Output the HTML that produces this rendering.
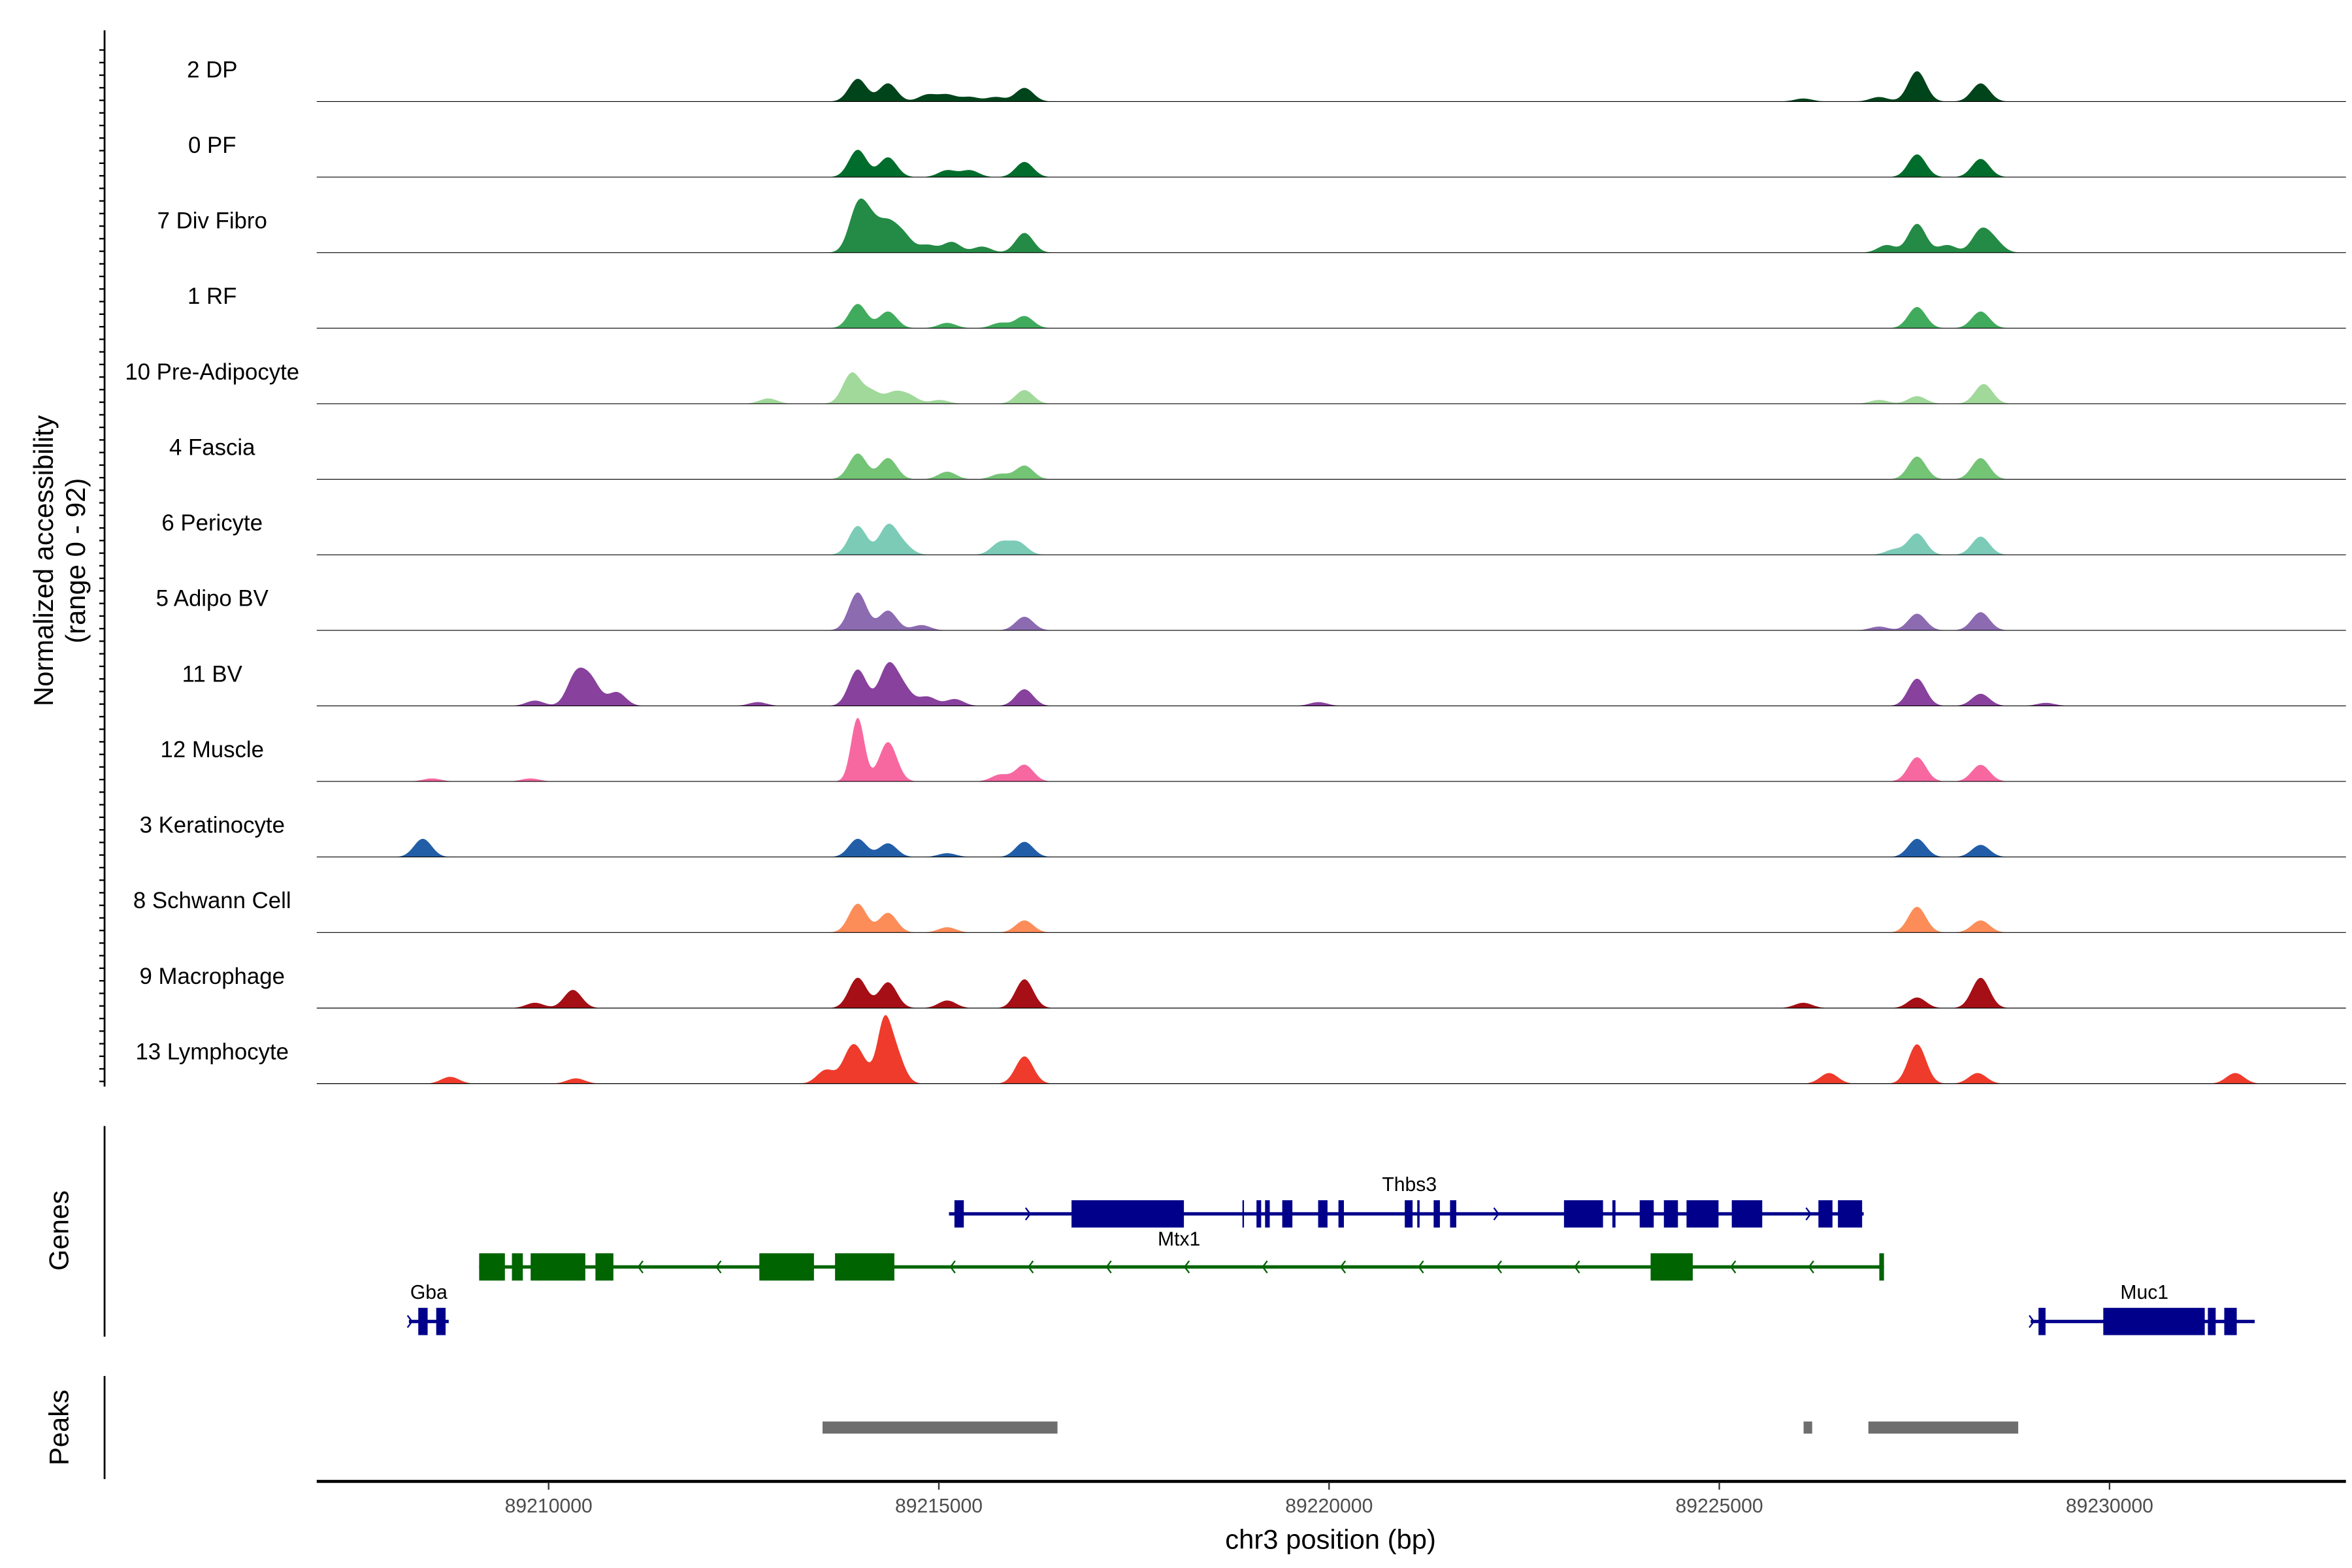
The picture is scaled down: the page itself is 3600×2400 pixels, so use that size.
<!DOCTYPE html>
<html><head><meta charset="utf-8"><style>
html,body{margin:0;padding:0;background:#fff;}
svg{display:block;}
text{font-family:"Liberation Sans",sans-serif;}
</style></head><body>
<svg id="chart" xmlns="http://www.w3.org/2000/svg" width="3600" height="2400" viewBox="0 0 1552 1034.67">
<rect x="0" y="0" width="1552" height="1034.67" fill="#fff"/>
<g id="tracks"></g>
<g id="genes"></g>
<g id="peaks"></g>
<g id="axes"></g>
</svg>
<script>
// ---- data ----
const trackNames = ["2 DP","0 PF","7 Div Fibro","1 RF","10 Pre-Adipocyte","4 Fascia","6 Pericyte","5 Adipo BV","11 BV","12 Muscle","3 Keratinocyte","8 Schwann Cell","9 Macrophage","13 Lymphocyte"];
const trackColors = ["#00441B","#006D2C","#238B45","#41AB5D","#A1D99B","#74C476","#7BCBB7","#8C6BB1","#88419D","#F768A1","#225EA8","#FC8D59","#A50F15","#EF3B2C"];
// peaks per track: positions (bp) and heights (normalized 0-92)
const peakPos = [
 [89213961,89214349,89214854,89215107,89215398,89215728,89216097,89226077,89227048,89227534,89228349],
 [89213961,89214349,89215107,89215398,89216097,89227534,89228349],
 [89213961,89214136,89214349,89214544,89214854,89215165,89215553,89216097,89227145,89227534,89227922,89228349,89228524],
 [89213961,89214349,89215107,89215786,89216097,89227534,89228349],
 [89212815,89213883,89214136,89214427,89214621,89215010,89216097,89227048,89227534,89228388],
 [89213961,89214349,89215107,89215786,89216097,89227534,89228349],
 [89213961,89214349,89214544,89215786,89216019,89227242,89227534,89228349],
 [89213961,89214349,89214777,89216097,89227048,89227534,89228349],
 [89209825,89210350,89210544,89210874,89212680,89213961,89214349,89214544,89214854,89215204,89216097,89219864,89227534,89228349,89229184],
 [89208505,89209767,89213961,89214349,89215786,89216097,89227534,89228349],
 [89208388,89213961,89214349,89215107,89216097,89227534,89228349],
 [89213961,89214349,89215107,89216097,89227534,89228349],
 [89209825,89210311,89213961,89214349,89215107,89216097,89226077,89227534,89228349],
 [89208738,89210350,89213553,89213883,89214039,89214291,89214427,89216097,89226407,89227534,89228310,89231611]
];
const peakHeight = [
 [30,24,9,9,6,6,18,4,6,40,24],
 [36,26,9,9,20,30,24],
 [58,34,34,22,10,14,8,26,10,38,10,28,14],
 [32,22,7,7,16,28,22],
 [7,40,16,14,10,5,18,5,10,26],
 [34,28,10,7,18,30,28],
 [38,38,12,16,16,7,28,24],
 [50,26,7,18,5,22,24],
 [7,40,32,18,5,48,52,22,12,9,22,5,36,16,4],
 [4,4,84,52,9,22,32,22],
 [24,24,18,5,20,24,16],
 [38,26,7,16,34,16],
 [7,24,40,34,10,38,7,14,40],
 [9,7,18,44,18,64,46,36,14,52,14,14]
];
const xTicks = [89210000,89215000,89220000,89225000,89230000];
const xDomain = [89207029,89233029];
const yMax = 92;
const geneNames = ["Thbs3","Mtx1","Gba","Muc1"];
const geneStrand = [1,-1,1,1];
const geneSpan = [[89215130,89226850],[89209110,89227110],[89208210,89208720],[89228990,89231860]];
const geneColor = ["#00008B","#006400","#00008B","#00008B"];
const geneRow = [0,1,2,2];
const geneExons = [
 [[89215200,89215320],[89216700,89218140],[89218890,89218910],[89219070,89219130],[89219180,89219240],[89219400,89219530],[89219860,89219980],[89220120,89220190],[89220970,89221070],[89221130,89221160],[89221340,89221420],[89221550,89221630],[89223010,89223510],[89223630,89223670],[89223980,89224160],[89224290,89224470],[89224580,89224990],[89225160,89225550],[89226270,89226450],[89226520,89226830]],
 [[89209110,89209440],[89209530,89209670],[89209770,89210470],[89210600,89210830],[89212700,89213400],[89213670,89214430],[89224120,89224660],[89227050,89227110]],
 [[89208330,89208450],[89208560,89208680]],
 [[89229090,89229180],[89229920,89231220],[89231260,89231360],[89231470,89231630]]
];
const peakRegions = [[89213510,89216520],[89226080,89226190],[89226910,89228830]];

// ---- scales ----
const X0 = 209, X1 = 1548;
const NS = "http://www.w3.org/2000/svg";
function xs(bp){ return X0 + (bp - xDomain[0]) / (xDomain[1] - xDomain[0]) * (X1 - X0); }
const trackBase0 = 67, trackStep = 49.85, trackH = 46;
function ys(i, v){ return trackBase0 + i*trackStep - v / yMax * trackH; }
function mk(tag, attrs, parent, txt){
  const e = document.createElementNS(NS, tag);
  for (const k in attrs) e.setAttribute(k, attrs[k]);
  if (txt !== undefined) e.textContent = txt;
  parent.appendChild(e);
  return e;
}
const gT = document.getElementById('tracks');
const gG = document.getElementById('genes');
const gP = document.getElementById('peaks');
const gA = document.getElementById('axes');

// ---- coverage tracks ----
const binBp = 20;
trackNames.forEach((name, i) => {
  const pos = peakPos[i], hts = peakHeight[i];
  let d = "M" + X0 + "," + ys(i, 0);
  for (let bp = xDomain[0]; bp <= xDomain[1]; bp += binBp) {
    let v = 0;
    for (let k = 0; k < pos.length; k++) {
      const w = hts[k] > 60 ? 120 : 160;
      const t = (bp - pos[k]) / w;
      v += hts[k] * Math.exp(-t*t);
    }
    v = Math.min(v, yMax);
    d += "L" + xs(bp).toFixed(2) + "," + ys(i, v).toFixed(2);
  }
  d += "L" + X1 + "," + ys(i, 0) + "Z";
  const p = mk('path', {d: d, fill: trackColors[i], stroke: 'none'}, gT);
  
  
  const bl = mk('line', {x1: X0, x2: X1, y1: ys(i,0), y2: ys(i,0), stroke: '#000', 'stroke-width': 0.5}, gT);
  
  
  const lb = mk('text', {x: 140, y: ys(i,0) - 16, 'text-anchor': 'middle', 'font-size': 15, fill: '#000'}, gT, name);
  
  
});

// left y axis
const ya = mk('line', {x1: 69, x2: 69, y1: 20, y2: 717, stroke: '#000', 'stroke-width': 1.2}, gA);


for (let y = 33; y < 716; y += 8.3) {
  const t = mk('line', {x1: 65.5, x2: 69, y1: y, y2: y, stroke: '#000', 'stroke-width': 1}, gA);
  
  
}
const yt = mk('text', {x: 0, y: 0, transform: 'translate(35,370) rotate(-90)', 'text-anchor': 'middle', 'font-size': 18, fill: '#000'}, gA, 'Normalized accessibility');


const yt2 = mk('text', {x: 0, y: 0, transform: 'translate(56,370) rotate(-90)', 'text-anchor': 'middle', 'font-size': 18, fill: '#000'}, gA, '(range 0 - 92)');



// ---- genes ----
const rowY = [801, 836, 872];
const gl = mk('line', {x1: 69, x2: 69, y1: 743, y2: 882, stroke: '#000', 'stroke-width': 1.2}, gA);


const gtl = mk('text', {x: 0, y: 0, transform: 'translate(45,812) rotate(-90)', 'text-anchor': 'middle', 'font-size': 18, fill: '#000'}, gA, 'Genes');


geneNames.forEach((name, g) => {
  const y = rowY[geneRow[g]], col = geneColor[g];
  const s = geneSpan[g];
  const grp = mk('g', {}, gG);
  
  
  mk('line', {x1: xs(s[0]), x2: xs(s[1]), y1: y, y2: y, stroke: col, 'stroke-width': 2.2}, grp);
  for (let bp = s[0] + 40; bp <= s[1]; bp += 1000) {
    const inEx = geneExons[g].some(e => bp > e[0] - 60 && bp < e[1] + 60);
    if (inEx) continue;
    const x = xs(bp), dx = 3 * geneStrand[g];
    mk('path', {d: `M${x-dx},${y-4}L${x},${y}L${x-dx},${y+4}`, fill: 'none', stroke: col, 'stroke-width': 1}, grp);
  }
  geneExons[g].forEach(e => {
    const r = mk('rect', {x: xs(e[0]), y: y - 9, width: Math.max(1, xs(e[1]) - xs(e[0])), height: 18, fill: col}, grp);
    
    
  });
  const lx = name === 'Thbs3' ? 930 : name === 'Mtx1' ? 778 : (xs(s[0]) + xs(s[1])) / 2;
  const ly = name === 'Mtx1' ? 822 : y - 15;
  const t = mk('text', {x: name === 'Muc1' ? 1415 : lx, y: ly, 'text-anchor': 'middle', 'font-size': 13, fill: '#000'}, grp, name);
  
  
});

// ---- peaks ----
const pl = mk('line', {x1: 69, x2: 69, y1: 908, y2: 976, stroke: '#000', 'stroke-width': 1.2}, gA);


const ptl = mk('text', {x: 0, y: 0, transform: 'translate(45,942) rotate(-90)', 'text-anchor': 'middle', 'font-size': 18, fill: '#000'}, gA, 'Peaks');


peakRegions.forEach(r => {
  const b = mk('rect', {x: xs(r[0]), y: 938, width: xs(r[1]) - xs(r[0]), height: 8, fill: '#6E6E6E'}, gP);
  
  
});

// ---- x axis ----
const xa = mk('line', {x1: X0, x2: X1, y1: 977.5, y2: 977.5, stroke: '#000', 'stroke-width': 2}, gA);


xTicks.forEach(v => {
  const x = xs(v);
  const t = mk('line', {x1: x, x2: x, y1: 978, y2: 983, stroke: '#333', 'stroke-width': 1}, gA);
  
  
  const l = mk('text', {x: x, y: 998, 'text-anchor': 'middle', 'font-size': 13, fill: '#4D4D4D'}, gA, String(v));
  
  
});
const xt = mk('text', {x: 878, y: 1022, 'text-anchor': 'middle', 'font-size': 18, fill: '#000'}, gA, 'chr3 position (bp)');


</script>
</body></html>
